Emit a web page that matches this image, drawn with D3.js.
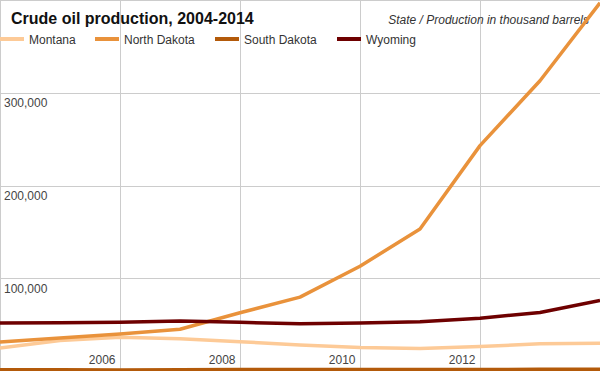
<!DOCTYPE html>
<html><head><meta charset="utf-8">
<script src="https://cdn.jsdelivr.net/npm/d3@7"></script>
<style>
body{margin:0;background:#fff;}
svg{display:block;font-family:"Liberation Sans",Arial,sans-serif;}
</style></head>
<body>
<script>
const years = [2004,2005,2006,2007,2008,2009,2010,2011,2012,2013,2014];
const montana = [24700,32900,36300,34800,31600,28000,25400,24300,26300,29400,29900];
const northDakota = [31300,35700,39900,45000,62800,79700,113000,153000,243000,313000,397000];
const southDakota = [1400,1300,1200,1300,1700,1700,1600,1600,1700,1800,1800];
const wyoming = [51800,52000,52600,54000,52500,51000,51700,53000,57000,63000,76000];
const seriesNames = ["Montana","North Dakota","South Dakota","Wyoming"];
const seriesColors = ["#fdca97","#e9923b","#b35a0a","#6e0000"];
const yTicks = [100000,200000,300000,400000];
const xTicks = [2006,2008,2010,2012];
const title = "Crude oil production, 2004-2014";
const subtitle = "State / Production in thousand barrels";

const W=600,H=371;
const svg=d3.select("body").append("svg").attr("width",W).attr("height",H);
const x=d3.scaleLinear().domain([2004,2014]).range([0,600]);
const y=d3.scaleLinear().domain([0,400000]).range([371,0]);

// grid
const gy=svg.append("g").call(d3.axisRight(y).tickValues(yTicks).tickSize(W).tickFormat(d=>d>=400000?"":d3.format(",")(d)));
gy.select(".domain").remove();
gy.selectAll("line").attr("stroke","#cccccc").attr("shape-rendering","crispEdges");
gy.selectAll("text").attr("x",4).attr("dy",14).attr("text-anchor","start").attr("fill","#444").attr("font-size",12).attr("font-family","Liberation Sans, Arial, sans-serif");

const gx=svg.append("g").call(d3.axisBottom(x).tickValues(xTicks).tickSize(H).tickFormat(d3.format("d")));
gx.select(".domain").remove();
gx.selectAll("line").attr("stroke","#cccccc").attr("shape-rendering","crispEdges");
gx.selectAll("text").attr("y",H-7).attr("dy",0).attr("x",-5).attr("text-anchor","end").attr("fill","#444").attr("font-size",12).attr("font-family","Liberation Sans, Arial, sans-serif");
svg.append("line").attr("x1",0.5).attr("x2",0.5).attr("y1",0).attr("y2",H).attr("stroke","#ccc");

// titles
svg.append("text").attr("x",11).attr("y",24).attr("font-size",16).attr("font-weight","bold").attr("fill","#111").text(title);
svg.append("text").attr("x",589).attr("y",24).attr("text-anchor","end").attr("font-size",12).attr("font-style","italic").attr("fill","#333").text(subtitle);

// legend
const legX=[0,95,215,337];
seriesNames.forEach((n,i)=>{
  const g=svg.append("g").attr("transform",`translate(${legX[i]},39)`);
  g.append("line").attr("x1",0).attr("x2",24).attr("stroke",seriesColors[i]).attr("stroke-width",4);
  g.append("text").attr("x",29).attr("y",4.5).attr("font-size",12).attr("fill","#333").text(n);
});

// lines
const data=[montana,northDakota,southDakota,wyoming];
const line=d3.line().x((d,i)=>x(years[i])).y(d=>y(d));
data.forEach((s,i)=>{
  svg.append("path").datum(s).attr("d",line).attr("fill","none").attr("stroke",seriesColors[i]).attr("stroke-width",3.5).attr("stroke-linejoin","round");
});
</script>
</body></html>
